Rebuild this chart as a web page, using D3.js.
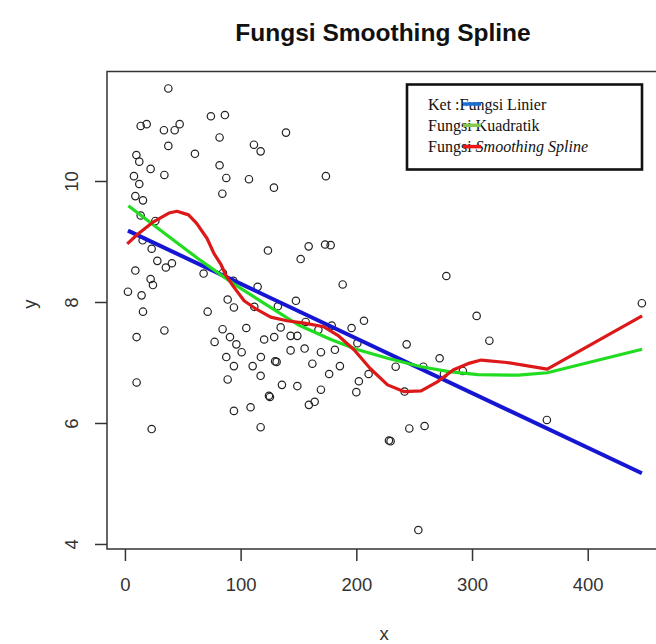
<!DOCTYPE html>
<html>
<head>
<meta charset="utf-8">
<script src="https://cdn.jsdelivr.net/npm/d3@7/dist/d3.min.js"></script>
<style>
  html, body { margin: 0; padding: 0; background: #fff; }
  svg { display: block; }
</style>
</head>
<body>
<div id="chart"></div>
<script>
const width = 656;
const height = 644;

// data
const pointX = [37.5, 13.6, 18.8, 33.7, 43.0, 47.3, 37.5, 74.3, 86.4, 81.8,
  139.2, 111.5, 117.3, 60.5, 9.9, 12.4, 22.2, 34.1, 7.8, 12.4,
  81.8, 87.6, 107.2, 128.8, 173.7, 84.2, 9.0, 15.6, 13.6, 26.3,
  15.3, 23.1, 28.0, 35.4, 40.6, 9.0, 22.2, 24.2, 2.6, 14.4,
  15.6, 10.1, 34.1, 10.1, 23.1, 123.6, 151.9, 158.8, 173.0, 177.8,
  68.0, 84.7, 93.7, 114.7, 88.8, 94.2, 111.8, 71.5, 132.2, 147.8,
  156.2, 167.2, 134.6, 104.9, 84.4, 77.5, 90.8, 96.3, 100.9, 120.3,
  129.0, 143.2, 149.0, 87.6, 94.2, 117.5, 129.8, 131.1, 143.2, 155.3,
  169.4, 110.4, 162.0, 176.5, 88.8, 117.3, 135.7, 149.0, 169.4, 124.5,
  125.3, 159.0, 164.0, 94.2, 108.6, 117.3, 277.8, 188.2, 206.6, 195.9,
  178.7, 200.9, 243.5, 181.5, 185.8, 210.6, 234.0, 257.9, 272.0, 292.1,
  275.7, 202.2, 200.0, 241.7, 245.8, 259.0, 228.2, 229.6, 253.6, 304.0,
  315.0, 364.7, 446.8];
const pointY = [11.53, 10.91, 10.94, 10.84, 10.84, 10.94, 10.58, 11.07, 11.09, 10.72,
  10.80, 10.60, 10.49, 10.45, 10.43, 10.32, 10.20, 10.10, 10.08, 9.95,
  10.26, 10.05, 10.03, 9.89, 10.08, 9.79, 9.75, 9.68, 9.43, 9.34,
  9.02, 8.88, 8.68, 8.57, 8.64, 8.52, 8.38, 8.28, 8.17, 8.11,
  7.84, 7.42, 7.53, 6.67, 5.90, 8.85, 8.71, 8.92, 8.95, 8.94,
  8.47, 8.48, 8.35, 8.25, 8.04, 7.91, 7.92, 7.84, 7.93, 8.02,
  7.67, 7.54, 7.58, 7.57, 7.55, 7.34, 7.42, 7.30, 7.17, 7.38,
  7.42, 7.44, 7.44, 7.09, 6.94, 7.09, 7.02, 7.01, 7.20, 7.23,
  7.17, 6.94, 6.98, 6.81, 6.72, 6.78, 6.63, 6.61, 6.55, 6.45,
  6.43, 6.30, 6.35, 6.20, 6.26, 5.93, 8.43, 8.29, 7.69, 7.57,
  7.61, 7.32, 7.30, 7.21, 6.94, 6.81, 6.93, 6.93, 7.07, 6.86,
  6.81, 6.69, 6.51, 6.52, 5.91, 5.95, 5.71, 5.70, 4.23, 7.77,
  7.36, 6.05, 7.98];

const linierX = [2.6, 446.8];
const linierY = [9.18, 5.17];

const kuadratX = [3, 25, 45, 63, 94, 120, 150, 178, 200, 227, 256, 280, 305, 340, 365, 447];
const kuadratY = [9.59, 9.27, 8.98, 8.72, 8.30, 7.98, 7.62, 7.38, 7.22, 7.07, 6.93, 6.85, 6.80, 6.79, 6.83, 7.22];

const splineX = [2, 11, 25, 38, 45, 55, 62, 71, 77, 83, 87, 94, 103, 112, 126, 140, 155, 172,
  184, 198, 212, 227, 241, 256, 270, 284, 298, 308, 330, 365, 447];
const splineY = [8.96, 9.12, 9.33, 9.47, 9.50, 9.44, 9.30, 9.05, 8.80, 8.62, 8.45, 8.25, 8.02, 7.90, 7.75, 7.69, 7.65, 7.59,
  7.45, 7.21, 6.90, 6.63, 6.52, 6.53, 6.68, 6.88, 6.99, 7.04, 7.00, 6.89, 7.77];

const xTicks = [0, 100, 200, 300, 400];
const yTicks = [4, 6, 8, 10];

const titleText = 'Fungsi Smoothing Spline';
const legendLabels = ['Ket :Fungsi Linier', 'Fungsi Kuadratik', 'Fungsi '];
const legendColors = ['#1a70d0', '#86c94a', '#ee1515'];

const plotLeft = 107, plotRight = 662, plotTop = 71.5, plotBottom = 549;

const x = d3.scaleLinear().domain([-15.5, 464.2]).range([plotLeft, plotRight]);
const y = d3.scaleLinear().domain([3.917, 11.81]).range([plotBottom, plotTop]);

const svg = d3.select('#chart').append('svg')
  .attr('width', width)
  .attr('height', height);

// title
svg.append('text')
  .attr('x', 383)
  .attr('y', 41)
  .attr('text-anchor', 'middle')
  .attr('font-family', 'Liberation Sans, Arial, sans-serif')
  .attr('font-weight', 'bold')
  .attr('font-size', 24.5)
  .attr('fill', '#111')
  .text(titleText);

// plot box (right side falls outside the picture)
svg.append('rect')
  .attr('x', plotLeft)
  .attr('y', plotTop)
  .attr('width', plotRight - plotLeft)
  .attr('height', plotBottom - plotTop)
  .attr('fill', 'none')
  .attr('stroke', '#333')
  .attr('stroke-width', 1.5);

// x axis
const xAxis = d3.axisBottom(x).tickValues(xTicks).tickSize(12).tickPadding(17);
const gx = svg.append('g')
  .attr('transform', `translate(0,${plotBottom})`)
  .call(xAxis);
gx.select('.domain').remove();
gx.selectAll('line').attr('stroke', '#333').attr('stroke-width', 1.5);
gx.selectAll('text')
  .attr('font-family', 'Liberation Sans, Arial, sans-serif')
  .attr('font-size', 18.5)
  .attr('fill', '#333');

// y axis
const yAxis = d3.axisLeft(y).tickValues(yTicks).tickSize(12);
const gy = svg.append('g')
  .attr('transform', `translate(${plotLeft},0)`)
  .call(yAxis);
gy.select('.domain').remove();
gy.selectAll('line').attr('stroke', '#333').attr('stroke-width', 1.5);
gy.selectAll('text')
  .attr('x', null)
  .attr('dy', null)
  .attr('text-anchor', 'middle')
  .attr('transform', 'translate(-29,0) rotate(-90)')
  .attr('font-family', 'Liberation Sans, Arial, sans-serif')
  .attr('font-size', 18.5)
  .attr('fill', '#333');

// axis titles
svg.append('text')
  .attr('x', 384)
  .attr('y', 640)
  .attr('text-anchor', 'middle')
  .attr('font-family', 'Liberation Sans, Arial, sans-serif')
  .attr('font-size', 18.5)
  .attr('fill', '#333')
  .text('x');
svg.append('text')
  .attr('transform', 'translate(36,304) rotate(-90)')
  .attr('text-anchor', 'middle')
  .attr('font-family', 'Liberation Sans, Arial, sans-serif')
  .attr('font-size', 18.5)
  .attr('fill', '#333')
  .text('y');

// points
const points = d3.zip(pointX, pointY);
svg.append('g')
  .selectAll('circle')
  .data(points)
  .join('circle')
  .attr('cx', d => x(d[0]))
  .attr('cy', d => y(d[1]))
  .attr('r', 3.7)
  .attr('fill', 'none')
  .attr('stroke', '#222')
  .attr('stroke-width', 1.2);

// fitted lines
const line = d3.line().x(d => x(d[0])).y(d => y(d[1]));
const fits = [
  { xs: linierX, ys: linierY, color: '#1616d2', w: 4 },
  { xs: kuadratX, ys: kuadratY, color: '#22dc22', w: 3.2 },
  { xs: splineX, ys: splineY, color: '#dd1818', w: 3.2 }
];
fits.forEach(f => {
  svg.append('path')
    .datum(d3.zip(f.xs, f.ys))
    .attr('d', line)
    .attr('fill', 'none')
    .attr('stroke', f.color)
    .attr('stroke-width', f.w)
    .attr('stroke-linejoin', 'round');
});

// legend
const lg = svg.append('g');
lg.append('rect')
  .attr('x', 407)
  .attr('y', 84.5)
  .attr('width', 235)
  .attr('height', 85)
  .attr('fill', '#fff')
  .attr('stroke', '#111')
  .attr('stroke-width', 2.6);
legendLabels.forEach((lab, i) => {
  const t = lg.append('text')
    .attr('x', 428)
    .attr('y', 110 + i * 20.8)
    .attr('font-family', 'Liberation Serif, Times New Roman, serif')
    .attr('font-size', 16)
    .attr('fill', '#111')
    .text(lab);
  if (i === 2) {
    t.append('tspan').attr('font-style', 'italic').text('Smoothing Spline');
  }
  lg.append('line')
    .attr('x1', 463)
    .attr('x2', 481)
    .attr('y1', 104 + i * 21.3)
    .attr('y2', 104 + i * 21.3)
    .attr('stroke', legendColors[i])
    .attr('stroke-width', 3.5);
});
</script>
</body>
</html>
